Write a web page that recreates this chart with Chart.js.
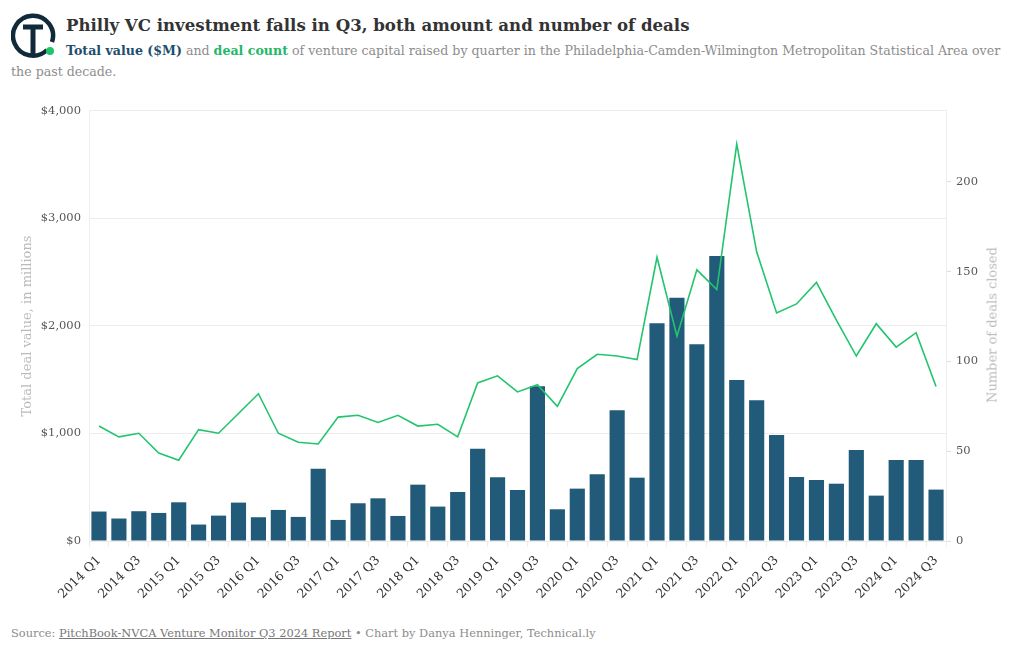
<!DOCTYPE html>
<html>
<head>
<meta charset="utf-8">
<script src="https://cdn.jsdelivr.net/npm/chart.js@4.4.0/dist/chart.umd.min.js"></script>
<style>
  body { margin: 0; background: #fff; font-family: "DejaVu Serif", serif; }
  #head { position: absolute; left: 11px; top: 8px; width: 1000px; }
  #logo { float: left; width: 55px; height: 50px; margin-top: 2px; }
  h1 { margin: 4px 0 0 0; font-size: 16.6px; color: #333; line-height: 26px; }
  #sub { margin: 2px 0 0 0; font-size: 12.6px; color: #8c8c8c; line-height: 21px; }
  #sub b.v { color: #1d4e6b; }
  #sub b.d { color: #1fb866; }
  #wrap { position: absolute; left: 0; top: 96px; width: 1020px; height: 524px; }
  #foot { position: absolute; left: 11px; top: 626px; font-size: 11.4px; color: #8c8c8c; }
  #foot u { color: #777; }
  #rtitle { position: absolute; left: 992px; top: 325px; transform: translate(-50%, -50%) rotate(-90deg);
            white-space: nowrap; font-size: 13px; color: #bbb; }
</style>
</head>
<body>
<div id="head">
  <svg id="logo" viewBox="0 0 55 50">
    <path d="M 36 40 A 20 20 0 1 1 41 32" fill="none" stroke="#102a3a" stroke-width="4.5"/>
    <path d="M 12 17 H 32 M 22 17 V 44" fill="none" stroke="#102a3a" stroke-width="5"/>
    <circle cx="39" cy="41" r="4" fill="#22c46a"/>
  </svg>
  <h1>Philly VC investment falls in Q3, both amount and number of deals</h1>
  <p id="sub"><b class="v">Total value ($M)</b> and <b class="d">deal count</b> of venture capital raised by quarter in the Philadelphia-Camden-Wilmington Metropolitan Statistical Area over the past decade.</p>
</div>
<div id="wrap"><canvas id="myChart"></canvas></div>
<div id="rtitle">Number of deals closed</div>
<div id="foot">Source: <u>PitchBook-NVCA Venture Monitor Q3 2024 Report</u> • Chart by Danya Henninger, Technical.ly</div>
<script>
const quarters = [
  "2014 Q1","2014 Q2","2014 Q3","2014 Q4","2015 Q1","2015 Q2","2015 Q3","2015 Q4",
  "2016 Q1","2016 Q2","2016 Q3","2016 Q4","2017 Q1","2017 Q2","2017 Q3","2017 Q4",
  "2018 Q1","2018 Q2","2018 Q3","2018 Q4","2019 Q1","2019 Q2","2019 Q3","2019 Q4",
  "2020 Q1","2020 Q2","2020 Q3","2020 Q4","2021 Q1","2021 Q2","2021 Q3","2021 Q4",
  "2022 Q1","2022 Q2","2022 Q3","2022 Q4","2023 Q1","2023 Q2","2023 Q3","2023 Q4",
  "2024 Q1","2024 Q2","2024 Q3"
];
// total deal value, $M
const dealValue = [
  274, 209, 277, 261, 360, 153, 236, 357,
  221, 289, 224, 672, 196, 351, 397, 233,
  524, 320, 456, 858, 592, 475, 1440, 295,
  487, 620, 1217, 589, 2025, 2262, 1829, 2651,
  1498, 1310, 985, 595, 567, 533, 846, 422,
  753, 753, 478
];
// number of deals closed
const dealCount = [
  64, 58, 60, 49, 45, 62, 60, 71,
  82, 60, 55, 54, 69, 70, 66, 70,
  64, 65, 58, 88, 92, 83, 87, 75,
  96, 104, 103, 101, 158, 114, 151, 140,
  221, 161, 127, 132, 144, 123, 103, 121,
  108, 116, 86
];
const valueTicks = [0, 1000, 2000, 3000, 4000];
const countTicks = [0, 50, 100, 150, 200];

const serif = "'DejaVu Serif', serif";
const barColor = '#225a79';
const lineColor = '#22c46e';

const ctx = document.getElementById('myChart').getContext('2d');
new Chart(ctx, {
  data: {
    labels: quarters,
    datasets: [
      {
        type: 'line',
        label: 'Deal count',
        data: dealCount,
        yAxisID: 'y1',
        borderColor: lineColor,
        borderWidth: 1.6,
        pointRadius: 0,
        tension: 0,
        order: 0
      },
      {
        type: 'bar',
        label: 'Total value ($M)',
        data: dealValue,
        yAxisID: 'y',
        backgroundColor: barColor,
        categoryPercentage: 1,
        barPercentage: 0.76,
        order: 1
      }
    ]
  },
  options: {
    responsive: true,
    maintainAspectRatio: false,
    animation: false,
    layout: { padding: { top: 13, left: 0, right: 0, bottom: 0 } },
    plugins: { legend: { display: false }, tooltip: { enabled: false } },
    scales: {
      x: {
        grid: { drawOnChartArea: false, color: '#eee', tickLength: 6 },
        border: { display: false },
        ticks: {
          autoSkip: false,
          maxRotation: 45,
          minRotation: 45,
          color: '#333',
          font: { family: serif, size: 12.5 },
          padding: 6,
          callback: function (v, i) { return i % 2 === 0 ? quarters[i] : ''; }
        },
        afterFit: function (s) { s.height = 79; }
      },
      y: {
        position: 'left',
        min: 0,
        max: 4000,
        afterBuildTicks: function (s) { s.ticks = valueTicks.map(v => ({ value: v })); },
        grid: { color: '#ececec', drawTicks: false },
        border: { color: '#eee' },
        ticks: {
          color: '#555',
          padding: 8,
          font: { family: serif, size: 11.5 },
          callback: v => '$' + v.toLocaleString('en-US')
        },
        title: {
          display: true,
          text: 'Total deal value, in millions',
          color: '#bbb',
          padding: { top: 20 },
          font: { family: serif, size: 13 }
        },
        afterFit: function (s) { s.width = 89; }
      },
      y1: {
        position: 'right',
        min: 0,
        max: 239.5,
        afterBuildTicks: function (s) { s.ticks = countTicks.map(v => ({ value: v })); },
        grid: { drawOnChartArea: false, color: '#ddd', tickLength: 5 },
        border: { color: '#eee' },
        ticks: {
          color: '#555',
          padding: 5,
          font: { family: serif, size: 11.5 }
        },
        afterFit: function (s) { s.width = 74; }
      }
    }
  }
});
</script>
</body>
</html>
